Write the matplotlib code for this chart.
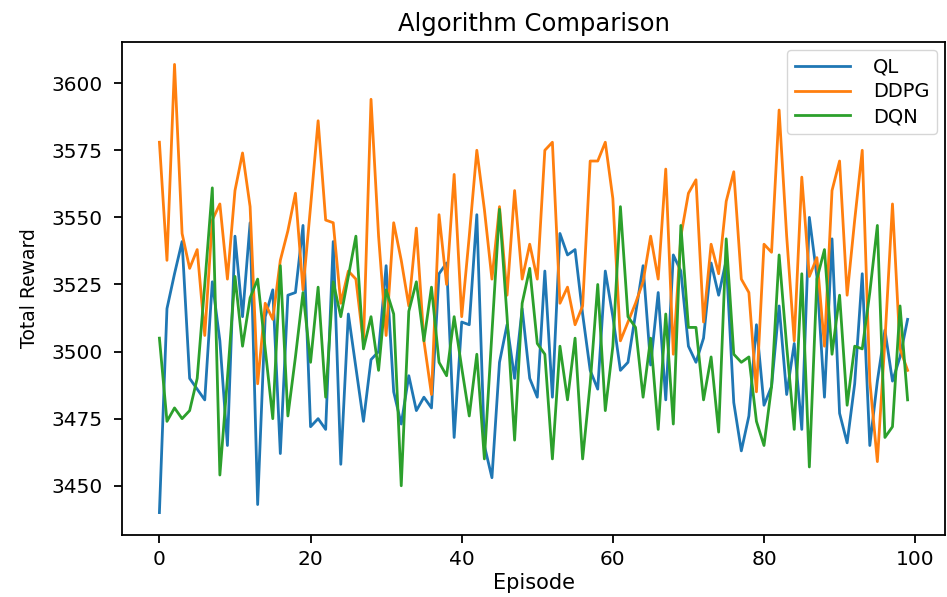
import matplotlib
matplotlib.use("Agg")
import matplotlib.pyplot as plt
import numpy as np

episodes = list(range(100))

ql = [3440, 3516, 3529, 3541, 3490, 3486, 3482, 3526, 3504, 3465,
      3543, 3513, 3548, 3443, 3513, 3523, 3462, 3521, 3522, 3547,
      3472, 3475, 3471, 3541, 3458, 3514, 3494, 3474, 3497, 3500,
      3532, 3485, 3473, 3491, 3478, 3483, 3479, 3529, 3533, 3468,
      3511, 3510, 3551, 3465, 3453, 3496, 3510, 3490, 3516, 3490,
      3483, 3530, 3483, 3544, 3536, 3538, 3514, 3493, 3486, 3530,
      3513, 3493, 3496, 3514, 3532, 3495, 3522, 3482, 3536, 3530,
      3502, 3496, 3505, 3533, 3521, 3534, 3481, 3463, 3476, 3510,
      3480, 3487, 3517, 3484, 3503, 3471, 3550, 3528, 3483, 3542,
      3477, 3466, 3488, 3529, 3465, 3489, 3508, 3489, 3498, 3512]

ddpg = [3578, 3534, 3607, 3544, 3531, 3538, 3506, 3549, 3555, 3527,
        3560, 3574, 3554, 3488, 3518, 3512, 3534, 3545, 3559, 3523,
        3554, 3586, 3549, 3548, 3518, 3530, 3527, 3503, 3594, 3543,
        3506, 3548, 3534, 3517, 3546, 3504, 3484, 3551, 3525, 3566,
        3513, 3543, 3575, 3553, 3527, 3554, 3521, 3560, 3527, 3540,
        3527, 3575, 3578, 3518, 3524, 3510, 3517, 3571, 3571, 3578,
        3557, 3504, 3511, 3518, 3526, 3543, 3527, 3568, 3499, 3543,
        3559, 3564, 3511, 3540, 3529, 3556, 3567, 3527, 3522, 3485,
        3540, 3537, 3590, 3543, 3504, 3565, 3528, 3535, 3502, 3560,
        3571, 3521, 3549, 3575, 3489, 3459, 3504, 3555, 3501, 3493]

dqn = [3505, 3474, 3479, 3475, 3478, 3490, 3525, 3561, 3454, 3490,
       3528, 3502, 3520, 3527, 3501, 3475, 3532, 3476, 3498, 3522,
       3496, 3524, 3483, 3526, 3513, 3528, 3543, 3501, 3513, 3493,
       3523, 3514, 3450, 3515, 3526, 3504, 3524, 3496, 3491, 3513,
       3494, 3476, 3499, 3460, 3507, 3553, 3513, 3467, 3518, 3531,
       3503, 3499, 3460, 3502, 3482, 3505, 3460, 3488, 3525, 3478,
       3502, 3554, 3513, 3509, 3483, 3505, 3471, 3514, 3473, 3547,
       3509, 3509, 3482, 3498, 3470, 3542, 3499, 3496, 3498, 3474,
       3465, 3487, 3536, 3502, 3471, 3529, 3457, 3527, 3538, 3499,
       3521, 3480, 3502, 3501, 3522, 3547, 3468, 3472, 3517, 3482]

labels = ["QL", "DDPG", "DQN"]

W, H = 947, 597
fig = plt.figure(figsize=(W / 100, H / 100), dpi=100)
ax = fig.add_axes([122 / W, (H - 535) / H, (945 - 122) / W, (535 - 42) / H])

for series, lab, col in zip([ql, ddpg, dqn], labels, ["#1f77b4", "#ff7f0e", "#2ca02c"]):
    ax.plot(episodes, series, label=lab, color=col, linewidth=2.0)

ax.set_title("Algorithm Comparison", fontsize=17.5, pad=8)
ax.set_xlabel("Episode", fontsize=15, labelpad=3)
ax.set_ylabel("Total Reward", fontsize=13.5, labelpad=9)
ax.tick_params(axis="both", labelsize=14.5, length=6, width=1.3)
ax.tick_params(axis="y", pad=8)
ax.tick_params(axis="x", pad=5)
ax.set_xticks([0, 20, 40, 60, 80, 100])
ax.set_yticks([3450, 3475, 3500, 3525, 3550, 3575, 3600])
for s in ax.spines.values():
    s.set_linewidth(1.3)
ax.legend(loc="upper right", fontsize=14, handlelength=2.8, borderaxespad=0.4,
          labelspacing=0.3, handletextpad=1.2)

fig.savefig("out.png", dpi=100)
